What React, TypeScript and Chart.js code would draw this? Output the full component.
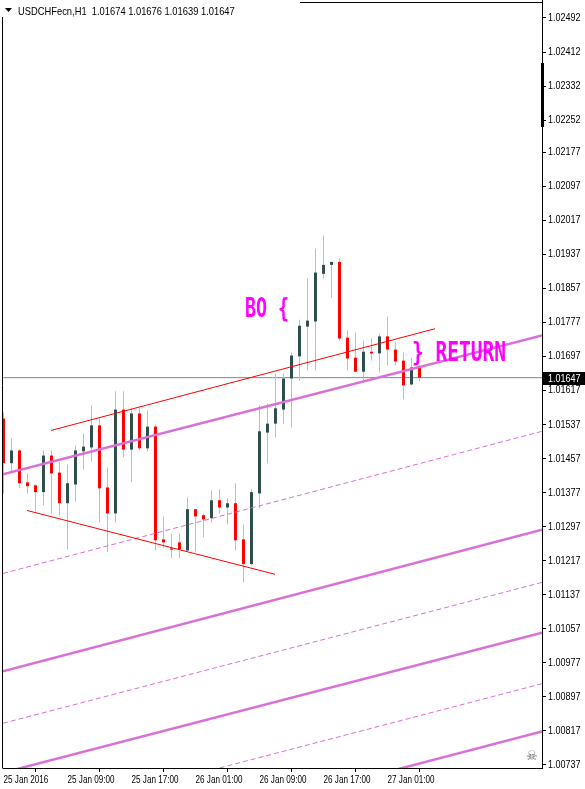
import React, { useEffect, useRef } from 'react';
import { Chart, registerables } from 'chart.js';

Chart.register(...registerables);

// ---- Data (USDCHFecn, H1) ----
const opens = [1.01551, 1.01446, 1.01476, 1.01401, 1.01394, 1.01378, 1.01464, 1.01424, 1.01352, 1.01396, 1.01474, 1.01483, 1.01535, 1.01389, 1.01328, 1.01572, 1.01478, 1.01563, 1.01481, 1.01532, 1.01267, 1.01246, 1.01260, 1.01241, 1.01338, 1.01324, 1.01317, 1.01359, 1.01342, 1.01352, 1.01267, 1.01209, 1.01375, 1.01518, 1.01539, 1.01572, 1.01645, 1.01697, 1.01767, 1.01779, 1.01891, 1.01912, 1.01919, 1.01741, 1.01694, 1.01661, 1.01708, 1.01704, 1.01744, 1.01713, 1.01687, 1.01631, 1.01674];
const highs = [1.01565, 1.01504, 1.01478, 1.01422, 1.01396, 1.01476, 1.01476, 1.01448, 1.01443, 1.01488, 1.01516, 1.01582, 1.01551, 1.01436, 1.01615, 1.01615, 1.01577, 1.01577, 1.01570, 1.01537, 1.01321, 1.01281, 1.01281, 1.01366, 1.01338, 1.01328, 1.01382, 1.01385, 1.01363, 1.01399, 1.01302, 1.01385, 1.01582, 1.01586, 1.01657, 1.01657, 1.01706, 1.01783, 1.01880, 1.01950, 1.01981, 1.01919, 1.01927, 1.01758, 1.01753, 1.01734, 1.01739, 1.01751, 1.01790, 1.01730, 1.01706, 1.01694, 1.01676];
const lows = [1.01375, 1.01424, 1.01387, 1.01375, 1.01333, 1.01347, 1.01328, 1.01324, 1.01244, 1.01356, 1.01431, 1.01450, 1.01307, 1.01237, 1.01307, 1.01460, 1.01401, 1.01476, 1.01474, 1.01241, 1.01246, 1.01223, 1.01223, 1.01239, 1.01239, 1.01272, 1.01307, 1.01328, 1.01302, 1.01241, 1.01166, 1.01206, 1.01340, 1.01446, 1.01507, 1.01539, 1.01530, 1.01640, 1.01664, 1.01664, 1.01880, 1.01835, 1.01734, 1.01664, 1.01661, 1.01640, 1.01687, 1.01659, 1.01676, 1.01676, 1.01596, 1.01629, 1.01639];
const closes = [1.01446, 1.01476, 1.01399, 1.01392, 1.01378, 1.01464, 1.01422, 1.01352, 1.01399, 1.01476, 1.01485, 1.01535, 1.01387, 1.01328, 1.01572, 1.01478, 1.01563, 1.01481, 1.01532, 1.01265, 1.01260, 1.01243, 1.01244, 1.01338, 1.01321, 1.01314, 1.01359, 1.01342, 1.01352, 1.01265, 1.01209, 1.01378, 1.01521, 1.01539, 1.01575, 1.01645, 1.01699, 1.01769, 1.01781, 1.01894, 1.01912, 1.01919, 1.01739, 1.01692, 1.01661, 1.01708, 1.01704, 1.01744, 1.01713, 1.01685, 1.01629, 1.01671, 1.01647];

const timeLabels = ['25 Jan 2016', '25 Jan 09:00', '25 Jan 17:00', '26 Jan 01:00', '26 Jan 09:00', '26 Jan 17:00', '27 Jan 01:00'];
const timeLabelBars = [0, 8, 16, 24, 32, 40, 48];
const priceTicks = [1.02492, 1.02412, 1.02332, 1.02252, 1.02177, 1.02097, 1.02017, 1.01937, 1.01857, 1.01777, 1.01697, 1.01617, 1.01537, 1.01457, 1.01377, 1.01297, 1.01217, 1.01137, 1.01057, 1.00977, 1.00897, 1.00817, 1.00737];

const headerText = 'USDCHFecn,H1  1.01674 1.01676 1.01639 1.01647';
const lastPrice = 1.01647;

// visible window (bar index / price)
const xMin = -0.0625;
const xMax = 67.3125;
const yMin = 1.0072995;
const yMax = 1.0252724;

// trend lines (bar index, price)
const upperRedLine = [{ x: 5.94, y: 1.01523 }, { x: 53.94, y: 1.01762 }];
const lowerRedLine = [{ x: 2.94, y: 1.01335 }, { x: 33.94, y: 1.01185 }];
const solidChannels = [
  [{ x: xMin, y: 1.01420 }, { x: xMax, y: 1.01746 }],
  [{ x: xMin, y: 1.00957 }, { x: xMax, y: 1.01290 }],
  [{ x: xMin, y: 1.00719 }, { x: xMax, y: 1.01048 }],
  [{ x: xMin, y: 1.00484 }, { x: xMax, y: 1.00816 }],
];
const dashedChannels = [
  [{ x: xMin, y: 1.01187 }, { x: xMax, y: 1.01521 }],
  [{ x: xMin, y: 1.00835 }, { x: xMax, y: 1.01166 }],
  [{ x: xMin, y: 1.00597 }, { x: xMax, y: 1.00928 }],
];
const textNotes = [
  { text: 'BO {', bar: 30.19, price: 1.017884, width: 44 },
  { text: '} RETURN', bar: 51.06, price: 1.016873, width: 94 },
];

const AXIS_FONT = "'Liberation Sans', Arial, sans-serif";
const BULL = '#2F4F4F';
const BEAR = '#FF0000';
const PINK = '#DA70D6';

function drawSquished(ctx: CanvasRenderingContext2D, text: string, x: number, y: number, sx: number) {
  ctx.save();
  ctx.translate(x, y);
  ctx.scale(sx, 1);
  ctx.fillText(text, 0, 0);
  ctx.restore();
}

const overlayPlugin = {
  id: 'mt4Overlay',
  beforeDraw(chart: any) {
    const ctx = chart.ctx;
    ctx.save();
    ctx.fillStyle = '#ffffff';
    ctx.fillRect(0, 0, chart.width, chart.height);
    ctx.restore();
  },
  afterDraw(chart: any) {
    const ctx: CanvasRenderingContext2D = chart.ctx;
    const a = chart.chartArea;
    const xs = chart.scales.x;
    const ys = chart.scales.y;
    ctx.save();
    // text notes
    for (const n of textNotes) {
      const px = xs.getPixelForValue(n.bar);
      const py = ys.getPixelForValue(n.price);
      ctx.font = "bold 26px 'DejaVu Sans Mono', monospace";
      const w = ctx.measureText(n.text).width;
      ctx.fillStyle = '#FF00FF';
      ctx.textBaseline = 'alphabetic';
      ctx.textAlign = 'left';
      drawSquished(ctx, n.text, px, py, n.width / w);
    }
    // frame
    ctx.strokeStyle = '#000';
    ctx.lineWidth = 1;
    ctx.beginPath();
    ctx.moveTo(a.left - 0.5, a.bottom + 0.5);
    ctx.lineTo(a.left - 0.5, a.top - 0.5);
    ctx.lineTo(a.right + 0.5, a.top - 0.5);
    ctx.moveTo(a.right + 0.5, 0);
    ctx.lineTo(a.right + 0.5, a.top);
    ctx.stroke();
    // header box
    ctx.fillStyle = '#ffffff';
    ctx.fillRect(0, 0, 300, 17);
    ctx.fillStyle = '#000';
    ctx.beginPath();
    ctx.moveTo(5, 8);
    ctx.lineTo(12, 8);
    ctx.lineTo(8.5, 12);
    ctx.closePath();
    ctx.fill();
    ctx.font = `11px ${AXIS_FONT}`;
    ctx.textBaseline = 'alphabetic';
    ctx.textAlign = 'left';
    drawSquished(ctx, headerText, 18, 15, 0.85);
    // price axis labels (library tick values and positions)
    ctx.textBaseline = 'middle';
    ys.ticks.forEach((t: any) => {
      drawSquished(ctx, Number(t.value).toFixed(5), a.right + 6, ys.getPixelForValue(t.value), 0.82);
    });
    // time axis labels
    ctx.textBaseline = 'alphabetic';
    xs.ticks.forEach((t: any, i: number) => {
      drawSquished(ctx, timeLabels[i], Math.round(xs.getPixelForValue(t.value)) - 0.5, a.bottom + 15, 0.74);
    });
    // axis marker bar
    ctx.fillRect(a.right - 1, 63, 3, 64);
    // price tag
    const tagY = Math.round(ys.getPixelForValue(lastPrice));
    ctx.fillStyle = '#000';
    ctx.fillRect(a.right + 1, tagY - 6, chart.width - a.right - 1, 13);
    ctx.fillStyle = '#fff';
    ctx.textBaseline = 'middle';
    drawSquished(ctx, lastPrice.toFixed(5), a.right + 6, tagY + 0.5, 0.82);
    // shift marker glyph
    ctx.fillStyle = '#666';
    ctx.font = "13px 'DejaVu Sans', sans-serif";
    ctx.textBaseline = 'alphabetic';
    ctx.fillText('\u2620', a.right - 16, a.bottom - 8);
    ctx.restore();
  },
};

function lineDs(data: any[], color: string, width: number, dash: number[] | undefined, order: number) {
  return {
    type: 'line' as const,
    data,
    borderColor: color,
    borderWidth: width,
    borderDash: dash || [],
    pointRadius: 0,
    fill: false,
    tension: 0,
    clip: 0,
    order,
  };
}

export default function App() {
  const ref = useRef<HTMLCanvasElement>(null);
  useEffect(() => {
    document.body.style.margin = '0';
    const colors = closes.map((c, i) => (c >= opens[i] ? BULL : BEAR));
    const bodies = closes.map((c, i) => ({ x: i, y: [opens[i], c] }));
    const wicks = closes.map((_, i) => ({ x: i, y: [lows[i], highs[i]] }));
    const datasets: any[] = [
      lineDs([{ x: xMin, y: lastPrice }, { x: xMax, y: lastPrice }], '#778899', 1, undefined, 5),
      {
        type: 'bar',
        data: wicks,
        backgroundColor: '#BDBDBD',
        barThickness: 1,
        grouped: false,
        inflateAmount: 0,
        borderWidth: 0,
        order: 4,
      },
      {
        type: 'bar',
        data: bodies,
        backgroundColor: colors,
        barThickness: 3,
        grouped: false,
        inflateAmount: 0,
        borderWidth: 0,
        minBarLength: 1,
        order: 3,
      },
      ...solidChannels.map((d) => lineDs(d, PINK, 2.5, undefined, 2)),
      ...dashedChannels.map((d) => lineDs(d, PINK, 1, [5, 3], 2)),
      lineDs(upperRedLine, BEAR, 1, undefined, 1),
      lineDs(lowerRedLine, BEAR, 1, undefined, 1),
    ];
    const chart = new Chart(ref.current as HTMLCanvasElement, {
      type: 'bar',
      data: { datasets },
      options: {
        animation: false,
        responsive: false,
        devicePixelRatio: 1,
        events: [],
        layout: { padding: { left: 3, top: 3, right: 0, bottom: 0 } },
        plugins: { legend: { display: false }, tooltip: { enabled: false } },
        scales: {
          x: {
            type: 'linear',
            position: 'bottom',
            min: xMin,
            max: xMax,
            offset: false,
            afterBuildTicks: (s: any) => {
              s.ticks = timeLabelBars.map((v) => ({ value: v }));
            },
            afterFit: (s: any) => {
              s.height = 21;
            },
            ticks: {
              display: false,
              autoSkip: false,
              maxRotation: 0,
              callback: (_v: any, i: number) => timeLabels[i],
            },
            grid: { drawOnChartArea: false, drawTicks: true, tickLength: 4, color: '#000' },
            border: { color: '#000', width: 1 },
          },
          y: {
            type: 'linear',
            position: 'right',
            min: yMin,
            max: yMax,
            afterBuildTicks: (s: any) => {
              s.ticks = priceTicks.map((v) => ({ value: v }));
            },
            afterFit: (s: any) => {
              s.width = 43;
            },
            ticks: {
              display: false,
              autoSkip: false,
              callback: (v: any) => Number(v).toFixed(5),
            },
            grid: { drawOnChartArea: false, drawTicks: true, tickLength: 4, color: '#000' },
            border: { color: '#000', width: 1 },
          },
        },
      } as any,
      plugins: [overlayPlugin],
    } as any);
    return () => chart.destroy();
  }, []);
  return (
    <div style={{ width: 585, height: 789 }}>
      <canvas ref={ref} width={585} height={789} style={{ display: 'block', width: 585, height: 789 }} />
    </div>
  );
}
